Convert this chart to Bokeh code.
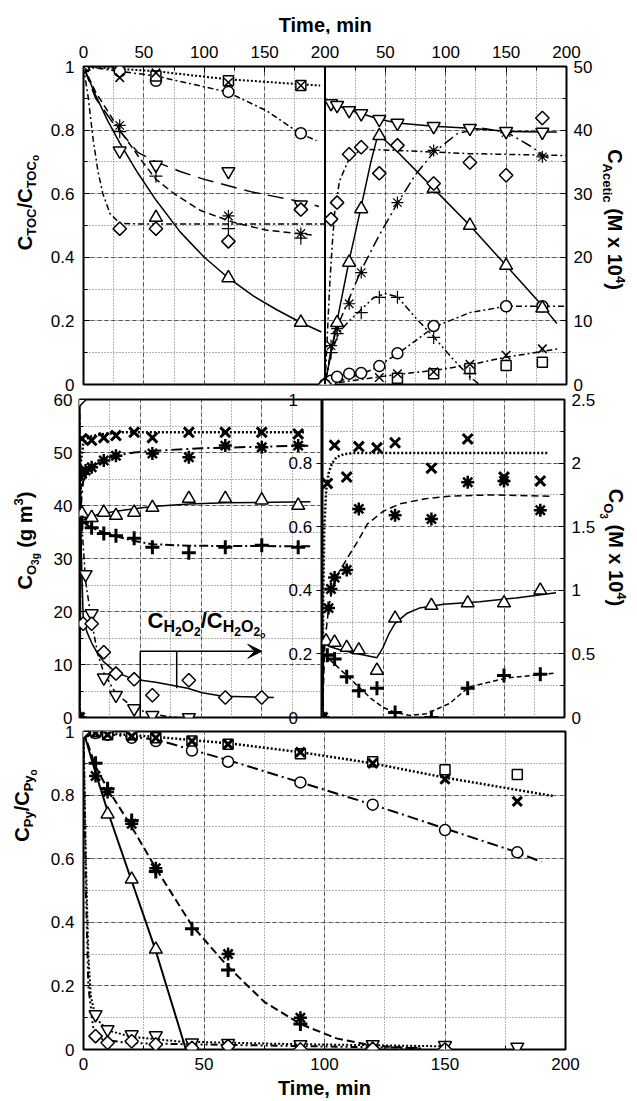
import math
from bokeh.plotting import figure
from bokeh.models import (Range1d, LinearAxis, FixedTicker, SingleIntervalTicker, Grid,
                          Label, Span, Arrow, VeeHead)
from bokeh.layouts import column, row
from bokeh.embed import file_html
from bokeh.resources import INLINE

FONT = "Liberation Sans"
INK = "black"

# ---------------- tick positions and labels ----------------
TIME_TICKS = [0, 50, 100, 150, 200]
TIME_MINOR = [25, 75, 125, 175]
FRAC_TICKS = [0, 0.2, 0.4, 0.6, 0.8, 1.0]
FRAC_LABELS = ["0", "0.2", "0.4", "0.6", "0.8", "1"]
FRAC_MINOR = [0.1, 0.3, 0.5, 0.7, 0.9]
ACET_TICKS = [0, 10, 20, 30, 40, 50]
ACET_LABELS = ["0", "10", "20", "30", "40", "50"]
ACET_MINOR = [5, 15, 25, 35, 45]
O3G_TICKS = [0, 10, 20, 30, 40, 50, 60]
O3G_LABELS = ["0", "10", "20", "30", "40", "50", "60"]
O3G_MINOR = [5, 15, 25, 35, 45, 55]
O3_TICKS = [0, 0.5, 1.0, 1.5, 2.0, 2.5]
O3_LABELS = ["0", "0.5", "1", "1.5", "2", "2.5"]
O3_MINOR = [0.25, 0.75, 1.25, 1.75, 2.25]

# ---------------- TOC removal, C_TOC/C_TOCo ----------------
toc_t = [0, 30, 60, 120, 180]
toc_tri_t = [0, 60, 120, 180]
toc_tri = [1.0, 0.525, 0.335, 0.195]
toc_itri = [1.0, 0.735, 0.69, 0.67, 0.565]
toc_ast_t = [0, 30, 120, 180]
toc_ast = [1.0, 0.815, 0.53, 0.475]
toc_plus = [1.0, 0.795, 0.655, 0.49, 0.46]
toc_dia = [1.0, 0.49, 0.49, 0.45, 0.55]
toc_circ = [1.0, 0.985, 0.955, 0.92, 0.79]
toc_x = [1.0, 0.965, 0.98, 0.95, 0.94]
toc_sq_t = [0, 60, 120, 180]
toc_sq = [1.0, 0.97, 0.955, 0.94]

fit_toc_tri_t = [0, 10, 20, 30, 45, 60, 80, 100, 120, 140, 160, 180, 197]
fit_toc_tri = [1.0, 0.91, 0.83, 0.76, 0.665, 0.58, 0.48, 0.40, 0.335, 0.28, 0.235, 0.195, 0.165]
fit_toc_itri_t = [0, 10, 25, 45, 60, 80, 100, 120, 140, 160, 180, 195]
fit_toc_itri = [1.0, 0.9, 0.82, 0.73, 0.7, 0.67, 0.645, 0.625, 0.605, 0.59, 0.575, 0.56]
fit_toc_ast_t = [0, 10, 20, 30, 45, 60, 75, 97, 124, 152, 189]
fit_toc_ast = [1.0, 0.92, 0.86, 0.80, 0.72, 0.645, 0.60, 0.547, 0.51, 0.485, 0.47]
fit_toc_dia_t = [0, 4, 8, 12, 16, 22, 30, 45, 200]
fit_toc_dia = [1.0, 0.9, 0.77, 0.67, 0.6, 0.537, 0.507, 0.505, 0.505]
fit_toc_circ_t = [0, 60, 119, 152, 179, 193]
fit_toc_circ = [1.0, 0.97, 0.92, 0.86, 0.79, 0.767]
fit_toc_x_t = [0, 60, 119, 196]
fit_toc_x = [1.0, 0.985, 0.96, 0.94]

# ---------------- acetic acid, M x 1e4 ----------------
ac_itri_t = [5, 10, 20, 30, 45, 60, 90, 120, 150, 180]
ac_itri = [44.2, 43.9, 43.1, 42.6, 41.7, 41.1, 40.6, 40.3, 39.8, 39.7]
fit_ac_itri_t = [0, 5, 10, 20, 30, 45, 60, 90, 120, 150, 180, 192]
fit_ac_itri = [45.0, 44.2, 43.9, 43.1, 42.6, 41.7, 41.1, 40.6, 40.3, 39.8, 39.7, 39.7]
ac_dia_t = [0, 5, 10, 20, 30, 45, 60, 90, 120, 150, 180]
ac_dia = [0, 26.0, 28.6, 36.2, 37.3, 33.2, 37.6, 31.6, 34.9, 32.9, 41.9]
fit_ac_dia_t = [0, 2, 4, 6, 8, 12, 20, 30, 60, 120, 200]
fit_ac_dia = [0, 8, 16, 22, 27, 32, 35.5, 37, 36.8, 36.3, 36]
ac_tri_t = [0, 10, 20, 30, 45, 90, 120, 150, 180]
ac_tri = [0, 9.7, 19.2, 27.6, 39.1, 30.8, 25.0, 18.7, 12.0]
fit_ac_tri_t = [0, 5, 10, 20, 30, 38, 44, 60, 90, 120, 150, 180, 192]
fit_ac_tri = [0, 5, 10, 19.5, 28, 35, 39.4, 36.6, 30.8, 25, 18.7, 12.4, 9.6]
ac_ast_t = [0, 5, 10, 20, 30, 60, 90, 150, 180]
ac_ast = [0, 6.1, 8.8, 12.7, 17.6, 28.6, 36.8, 39.6, 35.8]
fit_ac_ast_t = [0, 5, 10, 20, 30, 45, 60, 75, 90, 110, 130, 150, 170, 188]
fit_ac_ast = [0, 5.5, 9, 13.5, 18, 23.5, 28.5, 33, 36.5, 39.5, 40.3, 39.7, 37.5, 35.2]
ac_plus_t = [0, 5, 10, 30, 45, 60, 90, 120]
ac_plus = [0, 5.0, 8.0, 11.3, 13.7, 13.7, 7.4, 1.7]
fit_ac_plus_t = [0, 5, 12, 20, 30, 40, 50, 60, 75, 90, 105, 120, 128]
fit_ac_plus = [0, 5, 8.3, 10, 11.8, 13.6, 14.3, 13.8, 10.5, 7.5, 4.2, 1.2, 0]
ac_circ_t = [0, 5, 10, 20, 30, 45, 60, 90, 150, 180]
ac_circ = [0, 0.6, 1.2, 1.7, 1.8, 2.9, 4.9, 9.2, 12.3, 12.3]
fit_ac_circ_t = [0, 20, 40, 60, 90, 120, 150, 200]
fit_ac_circ = [0, 1.0, 2.4, 4.8, 9.0, 11.3, 12.3, 12.3]
ac_x_t = [0, 45, 60, 90, 120, 150, 180]
ac_x = [0, 1.1, 1.7, 2.0, 3.2, 4.6, 5.6]
fit_ac_x_t = [0, 30, 60, 90, 120, 150, 193]
fit_ac_x = [0, 0.8, 1.6, 2.2, 3.1, 4.3, 5.6]
ac_sq_t = [60, 90, 120, 150, 180]
ac_sq = [1.0, 1.7, 2.5, 3.0, 3.5]

# ---------------- gas-phase ozone, g m-3 ----------------
g_t = [0, 2, 10, 20, 30, 45, 60, 90, 120, 150, 180]
g_x = [0, 52.6, 52.3, 52.8, 53.2, 53.8, 52.8, 53.8, 53.8, 53.8, 53.5]
fit_g_x_t = [0, 1, 3, 6, 10, 20, 35, 60, 186]
fit_g_x = [0, 48, 51.5, 52.6, 53.1, 53.5, 53.8, 53.8, 53.8]
g_ast_t = [0, 2, 5, 10, 20, 30, 60, 90, 120, 150, 180]
g_ast = [0, 46.0, 46.6, 47.2, 48.5, 49.4, 49.8, 49.1, 51.3, 51.0, 51.3]
fit_g_ast_t = [0, 1, 3, 6, 10, 20, 30, 45, 60, 100, 150, 190]
fit_g_ast = [0, 40, 44.5, 46.3, 47.3, 48.6, 49.4, 50, 50.3, 50.8, 51.1, 51.3]
g_tri = [0, 38.5, 37.7, 38.7, 38.1, 38.7, 39.6, 41.3, 41.3, 41.0, 40.0]
fit_g_tri_t = [0, 1, 5, 15, 30, 45, 60, 90, 120, 190]
fit_g_tri = [0, 37, 37.5, 38.3, 38.9, 39.4, 39.8, 40.3, 40.5, 40.7]
g_plus = [0, 36.8, 35.8, 34.7, 34.3, 33.8, 32.1, 31.1, 32.1, 32.5, 32.1]
fit_g_plus_t = [0, 1, 5, 10, 20, 30, 45, 60, 90, 190]
fit_g_plus = [0, 37.5, 36.5, 35.8, 34.9, 34.2, 33.3, 32.7, 32.4, 32.3]

# ---------------- hydrogen peroxide, C_H2O2/C_H2O2o ----------------
h_dia_t = [0, 3, 10, 20, 30, 45, 60, 90, 120, 150]
h_dia = [1.0, 0.295, 0.295, 0.205, 0.138, 0.12, 0.07, 0.117, 0.063, 0.063]
fit_h_dia_t = [0, 1, 3, 6, 10, 15, 20, 30, 45, 64, 89, 101, 118, 160]
fit_h_dia = [1.0, 0.58, 0.32, 0.27, 0.235, 0.2, 0.175, 0.142, 0.12, 0.11, 0.092, 0.078, 0.067, 0.063]
h_itri_t = [0, 5, 10, 20, 30, 45, 60, 90]
h_itri = [1.0, 0.45, 0.327, 0.125, 0.07, 0.028, 0.007, 0.0]
fit_h_itri_t = [0, 2, 5, 10, 15, 20, 30, 45, 60, 80]
fit_h_itri = [1.0, 0.6, 0.43, 0.3, 0.2, 0.14, 0.075, 0.03, 0.01, 0.0]

# ---------------- dissolved ozone, M x 1e4 ----------------
o_x_t = [0, 4, 10, 20, 30, 45, 60, 90, 120, 150, 180]
o_x = [0, 1.84, 2.14, 1.89, 2.13, 2.12, 2.16, 1.96, 2.19, 1.89, 1.86]
fit_o_x_t = [0, 0.5, 1.5, 3, 5, 8, 12, 18, 25, 35, 186]
fit_o_x = [0, 0.9, 1.5, 1.78, 1.92, 2.0, 2.05, 2.07, 2.08, 2.08, 2.08]
o_ast_t = [0, 5, 7, 10, 20, 30, 60, 90, 120, 150, 180]
o_ast = [0, 0.86, 1.01, 1.1, 1.16, 1.64, 1.59, 1.56, 1.85, 1.86, 1.63]
fit_o_ast_t = [0, 2, 5, 8, 14, 21, 30, 37, 50, 64, 85, 105, 140, 188]
fit_o_ast = [0, 0.6, 0.85, 1.02, 1.15, 1.26, 1.4, 1.52, 1.62, 1.68, 1.72, 1.74, 1.75, 1.74]
o_tri_t = [0, 3, 10, 20, 30, 45, 60, 90, 120, 150, 180]
o_tri = [0, 0.6, 0.59, 0.55, 0.53, 0.37, 0.78, 0.88, 0.9, 0.9, 1.0]
fit_o_tri_t = [0, 1, 5, 15, 30, 40, 45, 50, 55, 60, 70, 80, 100, 130, 160, 193]
fit_o_tri = [0, 0.62, 0.56, 0.53, 0.5, 0.48, 0.47, 0.55, 0.66, 0.74, 0.82, 0.86, 0.89, 0.91, 0.94, 0.98]
o_plus_t = [0, 4, 10, 20, 30, 45, 60, 90, 120, 150, 180]
o_plus = [0, 0.49, 0.46, 0.32, 0.21, 0.23, 0.04, 0.0, 0.23, 0.33, 0.34]
fit_o_plus_t = [0, 1, 4, 10, 20, 30, 40, 50, 60, 72, 86, 105, 121, 152, 193]
fit_o_plus = [0, 0.5, 0.47, 0.42, 0.33, 0.24, 0.15, 0.08, 0.04, 0.016, 0.03, 0.11, 0.24, 0.31, 0.35]

# ---------------- pyruvic acid, C_Py/C_Pyo ----------------
py_t = [0, 5, 10, 20, 30, 45, 60, 90, 120, 150, 180]
py_x = [1.0, 0.995, 0.99, 0.985, 0.98, 0.97, 0.96, 0.935, 0.90, 0.85, 0.78]
py_sq = [1.0, 1.0, 0.99, 0.99, 0.98, 0.97, 0.96, 0.93, 0.905, 0.88, 0.865]
fit_py_x_t = [0, 30, 60, 90, 120, 150, 195]
fit_py_x = [1.0, 0.983, 0.963, 0.935, 0.9, 0.855, 0.797]
py_circ = [1.0, 0.995, 0.99, 0.98, 0.97, 0.94, 0.905, 0.84, 0.77, 0.69, 0.62]
fit_py_circ_t = [0, 30, 60, 90, 120, 150, 180, 190]
fit_py_circ = [1.0, 0.975, 0.91, 0.84, 0.77, 0.695, 0.62, 0.59]
py_tri_t = [0, 10, 20, 30]
py_tri = [1.0, 0.74, 0.535, 0.315]
fit_py_tri_t = [0, 5, 10, 20, 30, 42.5]
fit_py_tri = [1.0, 0.87, 0.75, 0.53, 0.31, 0.0]
py_ast_t = [0, 5, 10, 20, 30, 60, 90]
py_ast = [1.0, 0.86, 0.81, 0.71, 0.57, 0.30, 0.10]
py_plus_t = [0, 5, 10, 20, 30, 45, 60, 90]
py_plus = [1.0, 0.9, 0.82, 0.72, 0.56, 0.38, 0.25, 0.08]
fit_py_ast_t = [0, 5, 10, 20, 30, 45, 60, 75, 90, 105, 120, 140]
fit_py_ast = [1.0, 0.89, 0.82, 0.7, 0.57, 0.39, 0.26, 0.15, 0.08, 0.035, 0.012, 0.003]
py_itri = [1.0, 0.11, 0.063, 0.047, 0.044, 0.021, 0.02, 0.016, 0.016, 0.013, 0.008]
fit_py_itri_t = [0, 1, 2, 3, 5, 10, 20, 40, 80, 150]
fit_py_itri = [1.0, 0.6, 0.3, 0.17, 0.1, 0.06, 0.04, 0.025, 0.018, 0.01]
py_dia_t = [0, 5, 10, 20, 30, 45, 60, 90, 120, 150]
py_dia = [1.0, 0.042, 0.021, 0.026, 0.016, 0.005, 0.01, 0.0, 0.002, 0.0]
fit_py_dia_t = [0, 1, 2, 4, 8, 20, 40, 80, 120, 140]
fit_py_dia = [1.0, 0.5, 0.2, 0.07, 0.03, 0.02, 0.017, 0.012, 0.007, 0.005]

# ---------------- styling helpers ----------------
MARKERS = {
    "tri": dict(marker="triangle", size=13),
    "itri": dict(marker="inverted_triangle", size=13),
    "dia": dict(marker="square", size=9.5, angle=math.pi / 4),
    "circ": dict(marker="circle", size=11),
    "sq": dict(marker="square", size=10),
    "x": dict(marker="x", size=11),
    "ast": dict(marker="asterisk", size=12),
    "plus": dict(marker="cross", size=13),
}

DOT = "2 2"
DASH = "7 4"
DASHDOT = "6 3 2 3"
LONGDASH = "16 8"
LONGDASHDOT = "11 4 2 4"
DASHDOTDOT = "7 3 2 3 2 3"


def pts(p, t, v, kind, lw=1.5, size=None, **rng):
    spec = MARKERS[kind]
    p.scatter(t, v, marker=spec["marker"], size=size or spec["size"], angle=spec.get("angle", 0.0),
              line_color=INK, line_width=lw, fill_color="white", **rng)


def fit(p, t, v, dash="solid", lw=1.5, **rng):
    p.line(t, v, line_color=INK, line_width=lw, line_dash=dash, **rng)


def base_fig(width, height, xr, yr, left, right, top, bottom):
    p = figure(width=width, height=height, x_range=xr, y_range=yr,
               x_axis_location=None, y_axis_location=None,
               output_backend="svg", toolbar_location=None,
               min_border_left=left, min_border_right=right,
               min_border_top=top, min_border_bottom=bottom)
    p.center = [r for r in p.center if not isinstance(r, Grid)]
    p.outline_line_color = INK
    p.outline_line_width = 2
    p.background_fill_color = "white"
    p.border_fill_color = None
    return p


def strip(width, height):
    # narrow text-only panel that carries a rotated axis title
    s = figure(width=width, height=height, x_range=Range1d(0, 1), y_range=Range1d(0, 1),
               x_axis_location=None, y_axis_location=None,
               output_backend="svg", toolbar_location=None, min_border=0)
    s.center = [r for r in s.center if not isinstance(r, Grid)]
    s.outline_line_color = None
    s.background_fill_color = None
    s.border_fill_color = None
    return s


def add_grid(p, dim, interval, **rng):
    g = Grid(dimension=dim, ticker=SingleIntervalTicker(interval=interval, num_minor_ticks=2), **rng)
    g.grid_line_color = "#555555"
    g.grid_line_dash = "4 3"
    g.grid_line_width = 1
    g.minor_grid_line_color = "#6a6a6a"
    g.minor_grid_line_dash = "1 2"
    g.minor_grid_line_width = 1
    p.add_layout(g)


def make_axis(ticks, labels, minor, standoff=6, **kw):
    ax = LinearAxis(ticker=FixedTicker(ticks=ticks, minor_ticks=minor), **kw)
    ax.major_label_overrides = {t: s for t, s in zip(ticks, labels)}
    ax.axis_line_color = None
    ax.major_tick_in = 6
    ax.major_tick_out = 0
    ax.minor_tick_in = 4
    ax.minor_tick_out = 0
    ax.major_tick_line_color = INK
    ax.minor_tick_line_color = INK
    ax.major_label_text_font = FONT
    ax.major_label_text_font_size = "17px"
    ax.major_label_text_color = INK
    ax.major_label_standoff = standoff
    ax.axis_label_text_font = FONT
    ax.axis_label_text_font_size = "20px"
    ax.axis_label_text_font_style = "bold"
    ax.axis_label_text_color = INK
    ax.axis_label_standoff = 4
    return ax


# advance widths (em) of the bold sans face, used to chain sub/superscript pieces
CW = {"C": 0.722, "T": 0.611, "O": 0.778, "/": 0.278, "o": 0.611, "P": 0.667, "y": 0.556,
      "A": 0.722, "c": 0.556, "e": 0.556, "t": 0.333, "i": 0.278, " ": 0.278, "(": 0.333,
      ")": 0.333, "M": 0.833, "x": 0.556, "1": 0.556, "0": 0.556, "4": 0.556, "g": 0.611,
      "m": 0.889, "3": 0.556, "H": 0.722, "2": 0.556}


def tw(s, size):
    return sum(CW.get(ch, 0.6) for ch in s) * size


def rich_text(p, pieces, cx, cy, angle, centered=True):
    # chain text pieces along the baseline; shift > 0 raises a piece, < 0 lowers it
    ax_, ay_ = math.cos(angle), math.sin(angle)
    ux, uy = -math.sin(angle), math.cos(angle)
    total = sum(tw(t, s) for t, s, _ in pieces)
    pos = -total / 2 if centered else 0.0
    for text, size, shift in pieces:
        lead = len(text) - len(text.lstrip(" "))
        pos += tw(" " * lead, size)
        body = text.lstrip(" ")
        lift = shift + 0.25 * size
        x = cx + ax_ * pos + ux * lift
        y = cy + ay_ * pos + uy * lift
        p.add_layout(Label(x=x, y=y, x_units="screen", y_units="screen", text=body, angle=angle,
                           text_font=FONT, text_font_size=f"{size}px", text_font_style="bold",
                           text_color=INK, text_align="left", text_baseline="alphabetic"))
        pos += tw(body, size)


M, S, SS = 20, 13, 10

# ================= header =================
head = strip(637, 34)
rich_text(head, [("Time, min", 20, 0)], 328, 5, 0.0)

# ================= top row: TOC (left) and acetic acid (right) =================
top = base_fig(554, 364, Range1d(0, 400), Range1d(0, 1), 39, 32, 32, 14)
top.extra_x_ranges = {"acet": Range1d(-200, 200)}
top.extra_y_ranges = {"acet": Range1d(0, 50)}
add_grid(top, 0, 50)
add_grid(top, 1, 0.2)

top_ticks = [t - 200 for t in TIME_TICKS] + TIME_TICKS[1:]
top_labels = [str(t) for t in TIME_TICKS] + [str(t) for t in TIME_TICKS[1:]]
top_minor = [m - 200 for m in TIME_MINOR] + TIME_MINOR
top.add_layout(make_axis(top_ticks, top_labels, top_minor, standoff=9, x_range_name="acet"), "above")
top.add_layout(make_axis(FRAC_TICKS, FRAC_LABELS, FRAC_MINOR, standoff=9), "left")
top.add_layout(make_axis(ACET_TICKS, ACET_LABELS, ACET_MINOR, standoff=7, y_range_name="acet"), "right")
top.add_layout(Span(location=200, dimension="height", line_color=INK, line_width=2))

# left panel curves
fit(top, fit_toc_x_t, fit_toc_x, DOT, 2)
fit(top, fit_toc_circ_t, fit_toc_circ, DASHDOT)
fit(top, fit_toc_itri_t, fit_toc_itri, LONGDASH)
fit(top, fit_toc_ast_t, fit_toc_ast, DASH)
fit(top, fit_toc_dia_t, fit_toc_dia, DASHDOT)
fit(top, fit_toc_tri_t, fit_toc_tri, "solid")
pts(top, toc_t, toc_circ, "circ")
pts(top, toc_sq_t, toc_sq, "sq")
pts(top, toc_t, toc_x, "x", size=12)
pts(top, toc_t, toc_itri, "itri")
pts(top, toc_t, toc_dia, "dia")
pts(top, toc_tri_t, toc_tri, "tri")
pts(top, toc_t, toc_plus, "plus", 1.2)
pts(top, toc_ast_t, toc_ast, "ast", 1.2)

# right panel curves
AR = dict(x_range_name="acet", y_range_name="acet")
fit(top, fit_ac_itri_t, fit_ac_itri, "solid", **AR)
fit(top, fit_ac_dia_t, fit_ac_dia, DASHDOT, **AR)
fit(top, fit_ac_tri_t, fit_ac_tri, "solid", **AR)
fit(top, fit_ac_ast_t, fit_ac_ast, LONGDASHDOT, **AR)
fit(top, fit_ac_plus_t, fit_ac_plus, DASHDOTDOT, **AR)
fit(top, fit_ac_circ_t, fit_ac_circ, DASHDOT, **AR)
fit(top, fit_ac_x_t, fit_ac_x, DASHDOT, **AR)
pts(top, ac_sq_t, ac_sq, "sq", **AR)
pts(top, ac_x_t, ac_x, "x", size=12, **AR)
pts(top, ac_circ_t, ac_circ, "circ", **AR)
pts(top, ac_plus_t, ac_plus, "plus", 1.2, **AR)
pts(top, ac_ast_t, ac_ast, "ast", 1.2, **AR)
pts(top, ac_tri_t, ac_tri, "tri", **AR)
pts(top, ac_dia_t, ac_dia, "dia", **AR)
pts(top, ac_itri_t, ac_itri, "itri", **AR)

top_l = strip(44, 364)
rich_text(top_l, [("C", M, 0), ("TOC", S, -5), ("/C", M, 0), ("TOC", S, -5), ("o", SS, -8)],
          29, 182, math.pi / 2)
top_r = strip(39, 364)
rich_text(top_r, [("C", M, 0), ("Acetic", S, -5), (" (M x 10", M, 0), ("4", S, 8), (")", M, 0)],
          11, 165, -math.pi / 2)

# ================= middle row: gas ozone + H2O2 (left), dissolved ozone (right) =================
gas = base_fig(278, 347, Range1d(0, 200), Range1d(0, 60), 35, 0, 15, 14)
gas.extra_y_ranges = {"h2o2": Range1d(0, 1)}
add_grid(gas, 0, 50)
add_grid(gas, 1, 10)
gas.add_layout(make_axis(O3G_TICKS, O3G_LABELS, O3G_MINOR, standoff=7), "left")
h_axis = make_axis(FRAC_TICKS, FRAC_LABELS, [], y_range_name="h2o2")
h_axis.major_label_standoff = -34
gas.add_layout(h_axis, "right")

HR = dict(y_range_name="h2o2")
fit(gas, fit_g_x_t, fit_g_x, DOT, 2.5)
fit(gas, fit_g_ast_t, fit_g_ast, LONGDASHDOT, 2)
fit(gas, fit_g_tri_t, fit_g_tri, "solid", 1.5)
fit(gas, fit_g_plus_t, fit_g_plus, "9 3 2 3", 2)
fit(gas, fit_h_dia_t, fit_h_dia, "solid", 1.5, **HR)
fit(gas, fit_h_itri_t, fit_h_itri, DASHDOT, 1.5, **HR)
pts(gas, g_t, g_tri, "tri")
pts(gas, g_t, g_plus, "plus", 3, size=14)
pts(gas, g_ast_t, g_ast, "ast", 2.5, size=13)
pts(gas, g_t, g_x, "x", 3, size=14)
pts(gas, h_itri_t, h_itri, "itri", **HR)
pts(gas, h_dia_t, h_dia, "dia", **HR)

# pointer from the H2O2 caption to its curves
gas.add_layout(Arrow(end=VeeHead(size=14, fill_color=INK, line_color=INK), line_color=INK,
                     line_width=1.5, x_start=50, y_start=12.5, x_end=150, y_end=12.5))
gas.add_layout(Arrow(end=None, line_color=INK, line_width=1.5,
                     x_start=50, y_start=0, x_end=50, y_end=12.5))
gas.add_layout(Arrow(end=None, line_color=INK, line_width=1.5,
                     x_start=80, y_start=12.5, x_end=80, y_end=5.5))
rich_text(gas, [("C", 22, 0), ("H", 16, -5), ("2", 12, -9), ("O", 16, -5), ("2", 12, -9),
                ("/C", 22, 0), ("H", 16, -5), ("2", 12, -9), ("O", 16, -5), ("2", 12, -9),
                ("o", 9, -12)], 68, 92, 0.0, centered=False)

liq = base_fig(276, 347, Range1d(0, 200), Range1d(0, 2.5), 0, 33, 15, 14)
add_grid(liq, 0, 50)
add_grid(liq, 1, 0.5)
liq.add_layout(make_axis(O3_TICKS, O3_LABELS, O3_MINOR, standoff=7), "right")
fit(liq, fit_o_x_t, fit_o_x, DOT, 2.5)
fit(liq, fit_o_ast_t, fit_o_ast, DASH, 1.5)
fit(liq, fit_o_tri_t, fit_o_tri, "solid", 1.5)
fit(liq, fit_o_plus_t, fit_o_plus, "5 3", 1.5)
pts(liq, o_tri_t, o_tri, "tri")
pts(liq, o_plus_t, o_plus, "plus", 3, size=14)
pts(liq, o_ast_t, o_ast, "ast", 2.5, size=13)
pts(liq, o_x_t, o_x, "x", 3, size=14)

mid_l = strip(44, 347)
rich_text(mid_l, [("C", M, 0), ("O", S, -5), ("3g", SS, -8), (" (g m", M, 0), ("3", S, 8), (")", M, 0)],
          29, 177, math.pi / 2)
mid_r = strip(39, 347)
rich_text(mid_r, [("C", M, 0), ("O", S, -5), ("3", SS, -9), (" (M x 10", M, 0), ("4", S, 8), (")", M, 0)],
          12, 170, -math.pi / 2)

# ================= bottom row: pyruvic acid =================
pyr = base_fig(593, 384, Range1d(0, 200), Range1d(0, 1), 39, 72, 14, 50)
add_grid(pyr, 0, 50)
add_grid(pyr, 1, 0.2)
pyr.add_layout(make_axis(TIME_TICKS, [str(t) for t in TIME_TICKS], TIME_MINOR, standoff=8,
                         axis_label="Time, min"), "below")
pyr.add_layout(make_axis(FRAC_TICKS, FRAC_LABELS, FRAC_MINOR, standoff=9), "left")

fit(pyr, fit_py_x_t, fit_py_x, DOT, 2.5)
fit(pyr, fit_py_circ_t, fit_py_circ, LONGDASHDOT, 2)
fit(pyr, fit_py_tri_t, fit_py_tri, "solid", 2)
fit(pyr, fit_py_ast_t, fit_py_ast, "8 4", 2)
fit(pyr, fit_py_itri_t, fit_py_itri, DOT, 2)
fit(pyr, fit_py_dia_t, fit_py_dia, DASHDOTDOT, 2)
pts(pyr, py_t, py_circ, "circ")
pts(pyr, py_t, py_sq, "sq")
pts(pyr, py_t, py_x, "x", 3, size=13)
pts(pyr, py_tri_t, py_tri, "tri")
pts(pyr, py_plus_t, py_plus, "plus", 3, size=14)
pts(pyr, py_ast_t, py_ast, "ast", 2.5, size=13)
pts(pyr, py_t, py_itri, "itri")
pts(pyr, py_dia_t, py_dia, "dia")

bot_l = strip(44, 384)
rich_text(bot_l, [("C", M, 0), ("Py", S, -5), ("/C", M, 0), ("Py", S, -5), ("o", SS, -9)],
          26, 244, math.pi / 2)

layout = column(
    head,
    row(top_l, top, top_r),
    row(mid_l, gas, liq, mid_r, margin=(-14, 0, 0, 0)),
    row(bot_l, pyr, margin=(-14, 0, 0, 0)),
)
open("out.html", "w").write(file_html(layout, INLINE))
